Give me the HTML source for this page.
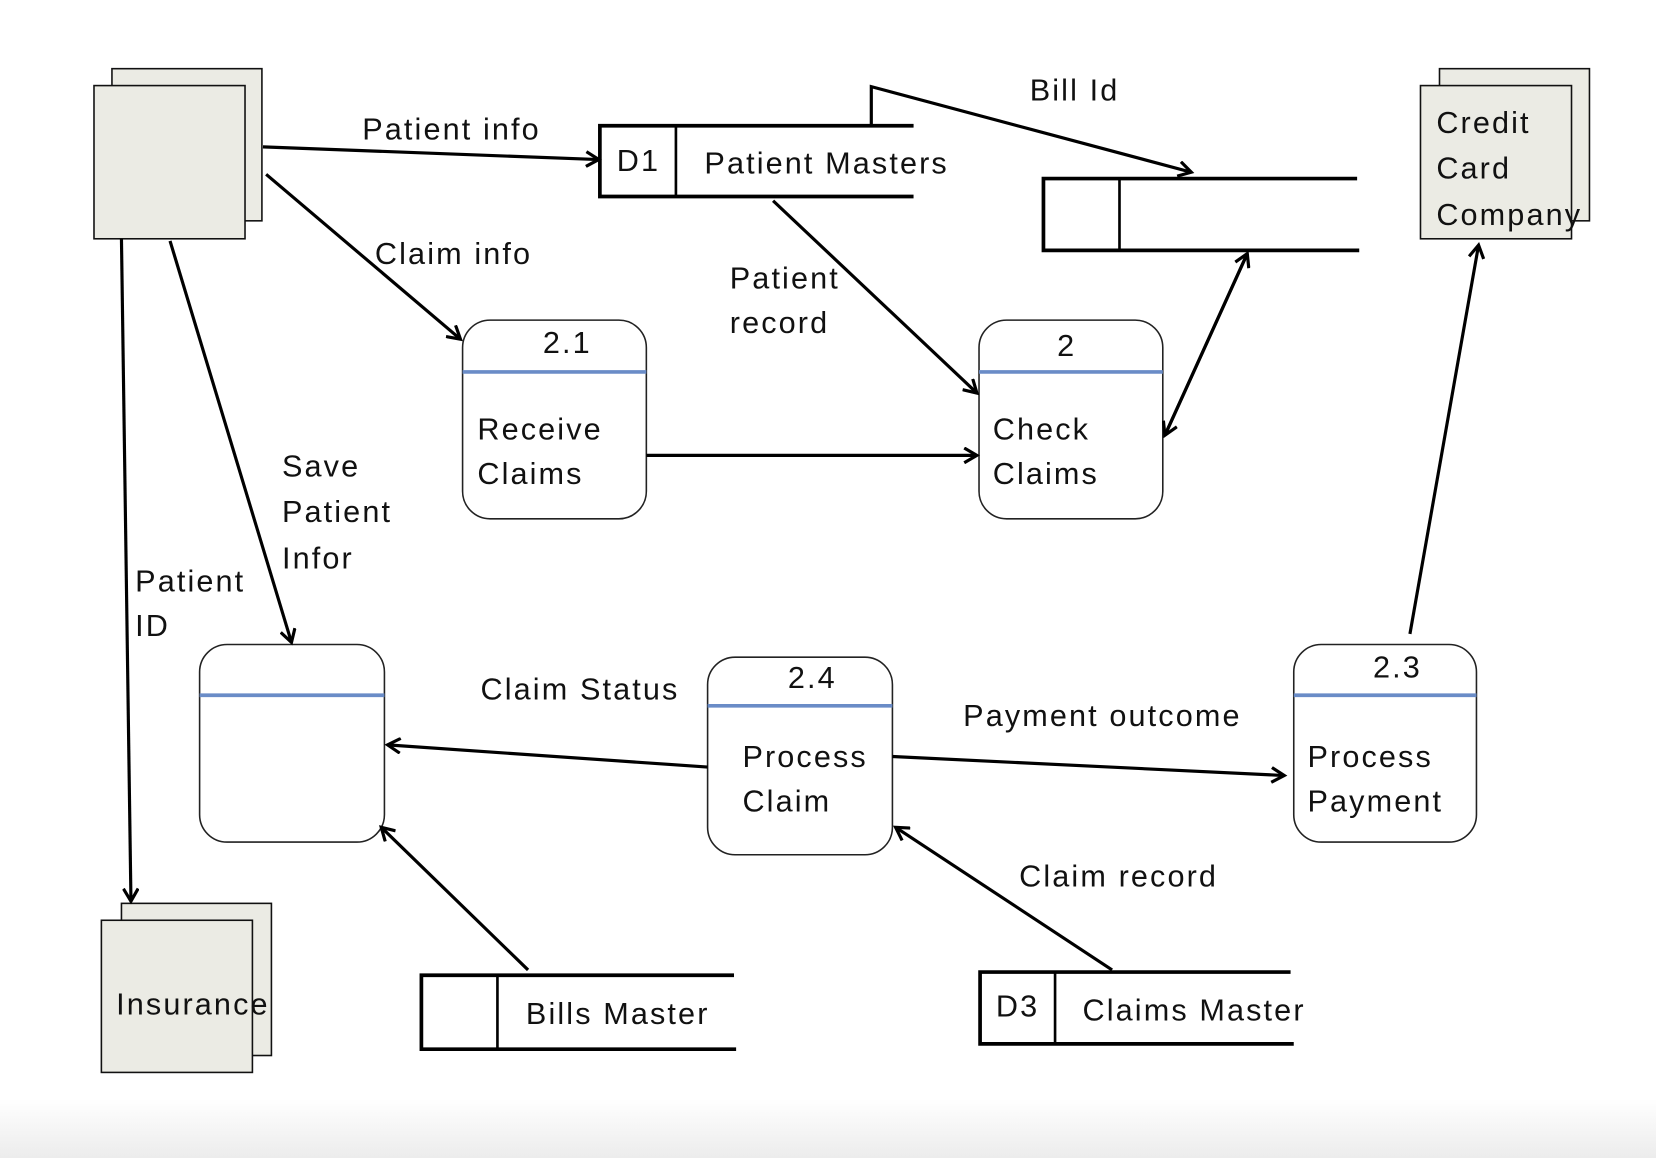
<!DOCTYPE html>
<html><head><meta charset="utf-8"><style>
html,body{margin:0;padding:0;background:#fff}
svg{display:block}
text{font-family:"Liberation Sans",sans-serif;font-size:29px;fill:#111;letter-spacing:2px}
</style></head><body>
<svg width="1656" height="1158" viewBox="0 0 1568 1096" preserveAspectRatio="none" xmlns="http://www.w3.org/2000/svg">
<defs>
<linearGradient id="g" x1="0" y1="0" x2="0" y2="1"><stop offset="0" stop-color="#fff"/><stop offset="1" stop-color="#ececec"/></linearGradient>
<marker id="a" markerWidth="16" markerHeight="16" refX="13" refY="8" orient="auto" markerUnits="userSpaceOnUse"><path d="M1,1 L13,8 L1,15" fill="none" stroke="#000" stroke-width="3"/></marker>
</defs>
<rect x="0" y="1040" width="1568" height="56" fill="url(#g)"/>
<g stroke="#111" stroke-width="1.5" fill="#ebebe4">
<rect x="106" y="65" width="142" height="144"/><rect x="89" y="81" width="143" height="145"/>
<rect x="1363" y="65" width="142" height="144"/><rect x="1345" y="81" width="143" height="145"/>
<rect x="115" y="855" width="142" height="144"/><rect x="96" y="871" width="143" height="144"/>
</g>
<text x="1360" y="126">Credit</text><text x="1360" y="169">Card</text><text x="1360" y="213">Company</text>
<text x="110" y="960">Insurance</text>
<g fill="none" stroke="#000" stroke-width="3.5">
<path d="M865,119 H568 V186 H865"/><line x1="640" y1="119" x2="640" y2="186" stroke-width="2.5"/>
<path d="M1285,169 H988 V237 H1287"/><line x1="1060" y1="169" x2="1060" y2="237" stroke-width="2.5"/>
<path d="M695,923 H399 V993 H697"/><line x1="471" y1="923" x2="471" y2="993" stroke-width="2.5"/>
<path d="M1222,920 H928 V988 H1225"/><line x1="999" y1="920" x2="999" y2="988" stroke-width="2.5"/>
</g>
<text x="584" y="162">D1</text><text x="667" y="164">Patient Masters</text>
<text x="498" y="969">Bills Master</text>
<text x="943" y="962">D3</text><text x="1025" y="966">Claims Master</text>
<g fill="#fff" stroke="#222" stroke-width="1.5">
<rect x="438" y="303" width="174" height="188" rx="26"/>
<rect x="927" y="303" width="174" height="188" rx="26"/>
<rect x="189" y="610" width="175" height="187" rx="26"/>
<rect x="670" y="622" width="175" height="187" rx="26"/>
<rect x="1225" y="610" width="173" height="187" rx="26"/>
</g>
<g stroke="#6a8cc7" stroke-width="3.5">
<line x1="438" y1="352" x2="612" y2="352"/><line x1="927" y1="352" x2="1101" y2="352"/>
<line x1="189" y1="658" x2="364" y2="658"/><line x1="670" y1="668" x2="845" y2="668"/>
<line x1="1225" y1="658" x2="1398" y2="658"/>
</g>
<text x="514" y="334">2.1</text><text x="452" y="416">Receive</text><text x="452" y="458">Claims</text>
<text x="1001" y="337">2</text><text x="940" y="416">Check</text><text x="940" y="458">Claims</text>
<text x="746" y="651">2.4</text><text x="703" y="726">Process</text><text x="703" y="768">Claim</text>
<text x="1300" y="641">2.3</text><text x="1238" y="726">Process</text><text x="1238" y="768">Payment</text>
<g fill="none" stroke="#000" stroke-width="3" marker-end="url(#a)">
<line x1="249" y1="139" x2="567" y2="151"/>
<line x1="252" y1="165" x2="436" y2="321"/>
<line x1="115" y1="226" x2="124" y2="853"/>
<line x1="161" y1="228" x2="276" y2="608"/>
<path d="M865,119 H825 V82 L1128,163"/>
<line x1="732" y1="190" x2="925" y2="372"/>
<line x1="612" y1="431" x2="925" y2="431"/>
<line x1="1103" y1="412" x2="1181" y2="240"/>
<line x1="1181" y1="240" x2="1103" y2="412"/>
<line x1="1335" y1="600" x2="1400" y2="232"/>
<line x1="670" y1="726" x2="367" y2="705"/>
<line x1="845" y1="716" x2="1216" y2="734"/>
<line x1="500" y1="918" x2="361" y2="783"/>
<line x1="1053" y1="918" x2="848" y2="783"/>
</g>
<text x="343" y="132">Patient info</text>
<text x="975" y="95">Bill Id</text>
<text x="355" y="250">Claim info</text>
<text x="691" y="273">Patient</text><text x="691" y="315">record</text>
<text x="267" y="451">Save</text><text x="267" y="494">Patient</text><text x="267" y="538">Infor</text>
<text x="128" y="560">Patient</text><text x="128" y="602">ID</text>
<text x="455" y="662">Claim Status</text>
<text x="912" y="687">Payment outcome</text>
<text x="965" y="839">Claim record</text>
</svg>
</body></html>
